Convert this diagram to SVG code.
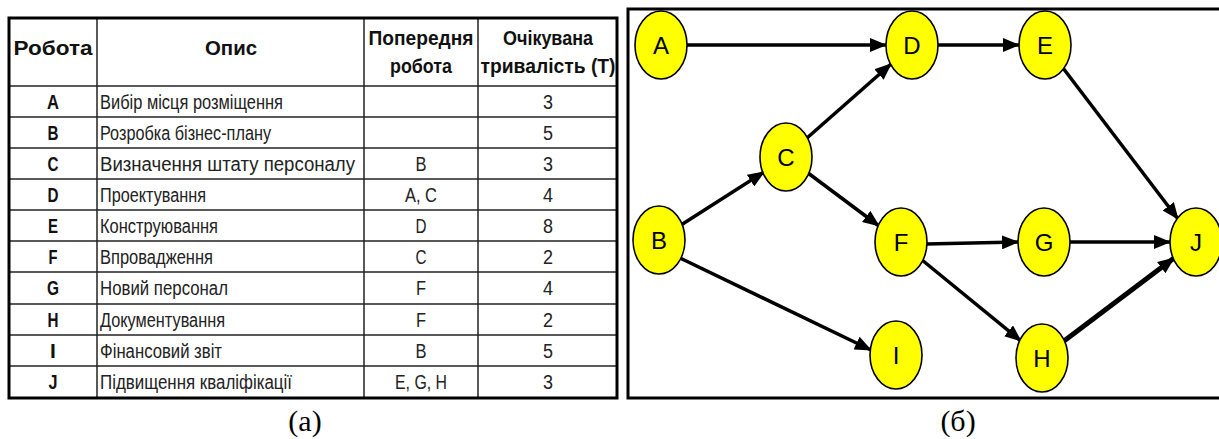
<svg xmlns="http://www.w3.org/2000/svg" width="1219" height="439" viewBox="0 0 1219 439">
<style>
.hd{font-family:"Liberation Sans Narrow","Liberation Sans",Arial,sans-serif;font-weight:bold;font-size:21px;fill:#111;text-anchor:middle}
.id{font-family:"Liberation Sans Narrow","Liberation Sans",Arial,sans-serif;font-weight:bold;font-size:21px;fill:#111;text-anchor:middle}
.ds{font-family:"Liberation Sans Narrow","Liberation Sans",Arial,sans-serif;font-size:20px;fill:#222}
.cn{font-family:"Liberation Sans Narrow","Liberation Sans",Arial,sans-serif;font-size:20px;fill:#222;text-anchor:middle}
.grid{stroke:#222;stroke-width:1.5;fill:none}
.cap{font-family:"Liberation Serif","Times New Roman",serif;font-size:30px;fill:#000;text-anchor:middle}
.node ellipse{fill:#ffff00;stroke:#000;stroke-width:1.6}
.node text{font-family:"Liberation Sans",Arial,sans-serif;font-size:24px;fill:#000;text-anchor:middle}
.edge{stroke:#000;stroke-width:3.5;fill:none;marker-end:url(#arr)}
</style>
<defs>
<marker id="arr" markerUnits="userSpaceOnUse" markerWidth="18" markerHeight="14" refX="16" refY="7" orient="auto"><path d="M0,0 L17,7 L0,14 z" fill="#000"/></marker>
</defs>
<rect width="1219" height="439" fill="#fff"/>
<g id="table">
<g class="grid">
<line x1="97" y1="18" x2="97" y2="398"/>
<line x1="364" y1="18" x2="364" y2="398"/>
<line x1="478" y1="18" x2="478" y2="398"/>
<line x1="9" y1="86" x2="617" y2="86"/>
<line x1="9" y1="117" x2="617" y2="117"/>
<line x1="9" y1="148" x2="617" y2="148"/>
<line x1="9" y1="179" x2="617" y2="179"/>
<line x1="9" y1="210" x2="617" y2="210"/>
<line x1="9" y1="241" x2="617" y2="241"/>
<line x1="9" y1="272" x2="617" y2="272"/>
<line x1="9" y1="304" x2="617" y2="304"/>
<line x1="9" y1="335" x2="617" y2="335"/>
<line x1="9" y1="366" x2="617" y2="366"/>
</g>
<rect x="9" y="18" width="608" height="380" fill="none" stroke="#000" stroke-width="3"/>
<text class="hd" x="53" y="55" textLength="79" lengthAdjust="spacingAndGlyphs">Робота</text>
<text class="hd" x="231" y="55" textLength="52" lengthAdjust="spacingAndGlyphs">Опис</text>
<text class="hd" x="421" y="45" textLength="105" lengthAdjust="spacingAndGlyphs">Попередня</text>
<text class="hd" x="421" y="73" textLength="62" lengthAdjust="spacingAndGlyphs">робота</text>
<text class="hd" x="548" y="45" textLength="90" lengthAdjust="spacingAndGlyphs">Очікувана</text>
<text class="hd" x="548" y="73" textLength="135" lengthAdjust="spacingAndGlyphs">тривалість (Т)</text>
<text class="id" x="53" y="109" textLength="12" lengthAdjust="spacingAndGlyphs">A</text>
<text class="id" x="53" y="140" textLength="11" lengthAdjust="spacingAndGlyphs">B</text>
<text class="id" x="53" y="171" textLength="11" lengthAdjust="spacingAndGlyphs">C</text>
<text class="id" x="53" y="202" textLength="11" lengthAdjust="spacingAndGlyphs">D</text>
<text class="id" x="53" y="233" textLength="10" lengthAdjust="spacingAndGlyphs">E</text>
<text class="id" x="53" y="264" textLength="9" lengthAdjust="spacingAndGlyphs">F</text>
<text class="id" x="53" y="295" textLength="12" lengthAdjust="spacingAndGlyphs">G</text>
<text class="id" x="53" y="327" textLength="11" lengthAdjust="spacingAndGlyphs">H</text>
<text class="id" x="53" y="358">I</text>
<text class="id" x="53" y="389" textLength="9" lengthAdjust="spacingAndGlyphs">J</text>
<text class="ds" x="100" y="109" textLength="183" lengthAdjust="spacingAndGlyphs">Вибір місця розміщення</text>
<text class="ds" x="100" y="140" textLength="171" lengthAdjust="spacingAndGlyphs">Розробка бізнес-плану</text>
<text class="ds" x="100" y="171" textLength="255" lengthAdjust="spacingAndGlyphs">Визначення штату персоналу</text>
<text class="ds" x="100" y="202" textLength="106" lengthAdjust="spacingAndGlyphs">Проектування</text>
<text class="ds" x="100" y="233" textLength="118" lengthAdjust="spacingAndGlyphs">Конструювання</text>
<text class="ds" x="100" y="264" textLength="113" lengthAdjust="spacingAndGlyphs">Впровадження</text>
<text class="ds" x="100" y="295" textLength="128" lengthAdjust="spacingAndGlyphs">Новий персонал</text>
<text class="ds" x="100" y="327" textLength="125" lengthAdjust="spacingAndGlyphs">Документування</text>
<text class="ds" x="100" y="358" textLength="122" lengthAdjust="spacingAndGlyphs">Фінансовий звіт</text>
<text class="ds" x="100" y="389" textLength="192" lengthAdjust="spacingAndGlyphs">Підвищення кваліфікації</text>
<text class="cn" x="421" y="171" textLength="11" lengthAdjust="spacingAndGlyphs">B</text>
<text class="cn" x="421" y="202" textLength="32" lengthAdjust="spacingAndGlyphs">A, C</text>
<text class="cn" x="421" y="233" textLength="11" lengthAdjust="spacingAndGlyphs">D</text>
<text class="cn" x="421" y="264" textLength="11" lengthAdjust="spacingAndGlyphs">C</text>
<text class="cn" x="421" y="295" textLength="10" lengthAdjust="spacingAndGlyphs">F</text>
<text class="cn" x="421" y="327" textLength="10" lengthAdjust="spacingAndGlyphs">F</text>
<text class="cn" x="421" y="358" textLength="11" lengthAdjust="spacingAndGlyphs">B</text>
<text class="cn" x="421" y="389" textLength="52" lengthAdjust="spacingAndGlyphs">E, G, H</text>
<text class="cn" x="548" y="109" textLength="10" lengthAdjust="spacingAndGlyphs">3</text>
<text class="cn" x="548" y="140" textLength="10" lengthAdjust="spacingAndGlyphs">5</text>
<text class="cn" x="548" y="171" textLength="10" lengthAdjust="spacingAndGlyphs">3</text>
<text class="cn" x="548" y="202" textLength="10" lengthAdjust="spacingAndGlyphs">4</text>
<text class="cn" x="548" y="233" textLength="10" lengthAdjust="spacingAndGlyphs">8</text>
<text class="cn" x="548" y="264" textLength="10" lengthAdjust="spacingAndGlyphs">2</text>
<text class="cn" x="548" y="295" textLength="10" lengthAdjust="spacingAndGlyphs">4</text>
<text class="cn" x="548" y="327" textLength="10" lengthAdjust="spacingAndGlyphs">2</text>
<text class="cn" x="548" y="358" textLength="10" lengthAdjust="spacingAndGlyphs">5</text>
<text class="cn" x="548" y="389" textLength="10" lengthAdjust="spacingAndGlyphs">3</text>
</g>
<text class="cap" x="305" y="431">(а)</text>
<rect x="628" y="9" width="600" height="389" fill="none" stroke="#000" stroke-width="3"/>
<g id="connectors">
<line class="edge" x1="686" y1="45" x2="886" y2="45"/>
<line class="edge" x1="937" y1="45" x2="1019" y2="45"/>
<line class="edge" x1="1063" y1="68" x2="1178" y2="219"/>
<line class="edge" x1="807" y1="138" x2="891" y2="64"/>
<line class="edge" x1="681" y1="225" x2="764" y2="172"/>
<line class="edge" x1="808" y1="173" x2="879" y2="226"/>
<line class="edge" x1="926" y1="244" x2="1018" y2="242"/>
<line class="edge" x1="1069" y1="242" x2="1170" y2="242"/>
<line class="edge" x1="680" y1="258" x2="871" y2="350"/>
<line class="edge" x1="922" y1="260" x2="1021" y2="341"/>
<line class="edge" x1="1064" y1="341" x2="1174" y2="258" style="stroke-width:5"/>
</g>
<g id="node-A" class="node"><ellipse cx="661" cy="45" rx="26" ry="34"/><text x="661" y="54">A</text></g>
<g id="node-D" class="node"><ellipse cx="912" cy="45" rx="26" ry="34"/><text x="912" y="54">D</text></g>
<g id="node-E" class="node"><ellipse cx="1045" cy="45" rx="26" ry="34"/><text x="1045" y="54">E</text></g>
<g id="node-C" class="node"><ellipse cx="786" cy="157" rx="26" ry="34"/><text x="786" y="166">C</text></g>
<g id="node-B" class="node"><ellipse cx="659" cy="240" rx="26" ry="34"/><text x="659" y="249">B</text></g>
<g id="node-F" class="node"><ellipse cx="901" cy="242" rx="26" ry="34"/><text x="901" y="251">F</text></g>
<g id="node-G" class="node"><ellipse cx="1044" cy="242" rx="26" ry="34"/><text x="1044" y="251">G</text></g>
<g id="node-J" class="node"><ellipse cx="1196" cy="242" rx="26" ry="34"/><text x="1196" y="251">J</text></g>
<g id="node-I" class="node"><ellipse cx="896" cy="355" rx="26" ry="34"/><text x="896" y="364">I</text></g>
<g id="node-H" class="node"><ellipse cx="1042" cy="358" rx="26" ry="34"/><text x="1042" y="367">H</text></g>
<text class="cap" x="958" y="431">(б)</text>
</svg>
